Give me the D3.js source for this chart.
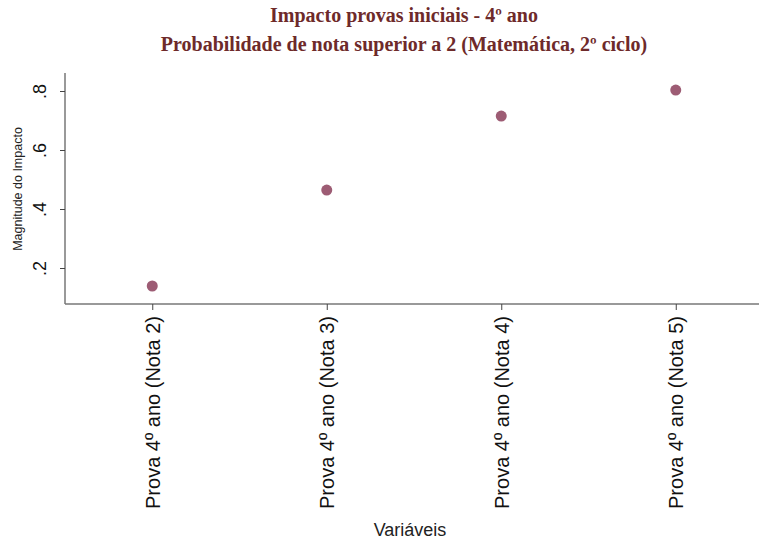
<!DOCTYPE html>
<html><head><meta charset="utf-8">
<script src="https://cdn.jsdelivr.net/npm/d3@7"></script>
<style>body{margin:0;background:#fff}svg{display:block}</style>
</head><body>
<svg id="c" width="759" height="541"></svg>
<script>
const titleLines = ["Impacto provas iniciais - 4º ano", "Probabilidade de nota superior a 2 (Matemática, 2º ciclo)"];
const categories = ["Prova 4º ano (Nota 2)", "Prova 4º ano (Nota 3)", "Prova 4º ano (Nota 4)", "Prova 4º ano (Nota 5)"];
const values = [0.139, 0.464, 0.715, 0.803];
const yTicks = [0.2, 0.4, 0.6, 0.8];
const yTickLabels = [".2", ".4", ".6", ".8"];
const yLabel = "Magnitude do Impacto";
const xLabel = "Variáveis";

const svg = d3.select("#c");
const W = 759;
const x = d3.scaleLinear().domain([0.5, 4.5]).range([65, 763]);
const y = d3.scaleLinear().domain([0.2, 0.8]).range([268, 91]);
const yBottom = 304, yTop = 73;

// title
svg.selectAll("text.title").data(titleLines).join("text")
  .attr("class","title")
  .attr("x", 404).attr("y", (d,i)=>22 + i*29)
  .attr("text-anchor","middle")
  .attr("font-family","'Liberation Serif','DejaVu Serif',serif")
  .attr("font-weight","bold").attr("font-size",20)
  .attr("fill","#6e2a2a").text(d=>d);

// axes
const gx = svg.append("g").attr("transform",`translate(0,${yBottom})`)
  .call(d3.axisBottom(x).tickValues([1,2,3,4]).tickSize(6).tickFormat((d)=>categories[d-1]));
gx.select(".domain").attr("stroke","#777").attr("stroke-width",1.5).attr("d",`M65,0H${W}`);
gx.selectAll(".tick line").attr("stroke","#444");
gx.selectAll(".tick text")
  .attr("transform","rotate(-90)")
  .attr("x",-12).attr("y",0).attr("dy","0.35em")
  .attr("text-anchor","end")
  .attr("font-family","'Liberation Sans',Arial,sans-serif")
  .attr("font-size",20).attr("fill","#111");

const gy = svg.append("g").attr("transform","translate(65,0)")
  .call(d3.axisLeft(y).tickValues(yTicks).tickSize(5).tickFormat((d,i)=>yTickLabels[i]));
gy.select(".domain").attr("stroke","#777").attr("stroke-width",1.5).attr("d",`M0,${yTop}V${yBottom}`);
gy.selectAll(".tick line").attr("stroke","#444");
gy.selectAll(".tick text")
  .attr("transform","rotate(-90)")
  .attr("x",0).attr("y",-19).attr("dy",0)
  .attr("text-anchor","middle")
  .attr("font-family","'Liberation Sans',Arial,sans-serif")
  .attr("font-size",18).attr("fill","#111");

// axis labels
svg.append("text").attr("transform","translate(22,189) rotate(-90)")
  .attr("text-anchor","middle")
  .attr("font-family","'Liberation Sans',Arial,sans-serif")
  .attr("font-size",12.5).attr("fill","#222").text(yLabel);
svg.append("text").attr("x",410).attr("y",536)
  .attr("text-anchor","middle")
  .attr("font-family","'Liberation Sans',Arial,sans-serif")
  .attr("font-size",18).attr("fill","#222").text(xLabel);

// points
svg.append("g").selectAll("circle").data(values).join("circle")
  .attr("cx",(d,i)=>x(i+1)).attr("cy",d=>y(d))
  .attr("r",5.5).attr("fill","#9d5c74");
</script>
</body></html>
